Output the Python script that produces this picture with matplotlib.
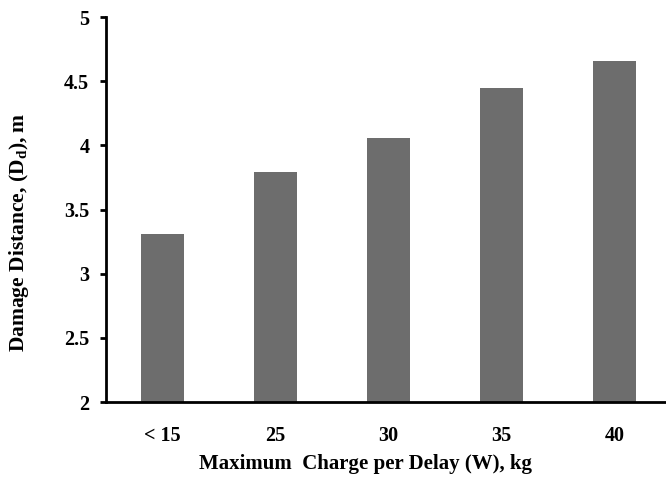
import matplotlib
matplotlib.use("Agg")
import matplotlib.pyplot as plt
import numpy as np

# charge per delay categories and damage distance
categories = ["< 15", "25", "30", "35", "40"]
damage_distance = [3.31, 3.79, 4.06, 4.45, 4.66]
y_ticks = [2, 2.5, 3, 3.5, 4, 4.5, 5]

plt.rcParams["font.family"] = ["Liberation Serif", "DejaVu Serif"]
plt.rcParams["font.weight"] = "bold"
plt.rcParams["mathtext.fontset"] = "custom"
plt.rcParams["mathtext.rm"] = "Liberation Serif:bold"

fig = plt.figure(figsize=(6.66, 4.78), dpi=100)
ax = fig.add_axes([106 / 666, 76 / 478, 565 / 666, 385 / 478])

x = np.arange(len(categories))
ax.bar(x, damage_distance, width=0.375, color="#6d6d6d", zorder=2)

ax.set_xlim(-0.5, len(categories) - 0.5)
ax.set_ylim(2, 5)
ax.set_yticks(y_ticks)
ax.set_yticklabels([f"{v:g}" for v in y_ticks])
ax.set_xticks(x)
ax.set_xticklabels(categories)

for s in ["top", "right"]:
    ax.spines[s].set_visible(False)
for s in ["left", "bottom"]:
    ax.spines[s].set_linewidth(2)
    ax.spines[s].set_color("black")

ax.tick_params(axis="y", direction="out", length=4, width=2, labelsize=14.5, pad=8)
ax.tick_params(axis="x", length=0, labelsize=14.5, pad=17)

ax.set_xlabel("Maximum  Charge per Delay (W), kg", fontsize=15, fontweight="bold")
ax.xaxis.set_label_coords(0.46, -0.135)
ax.set_ylabel(r"Damage Distance, (D$_\mathregular{d}$), m", fontsize=15.5, fontweight="bold")
ax.yaxis.set_label_coords(-0.133, 0.44)

fig.savefig("out.png", dpi=100)
